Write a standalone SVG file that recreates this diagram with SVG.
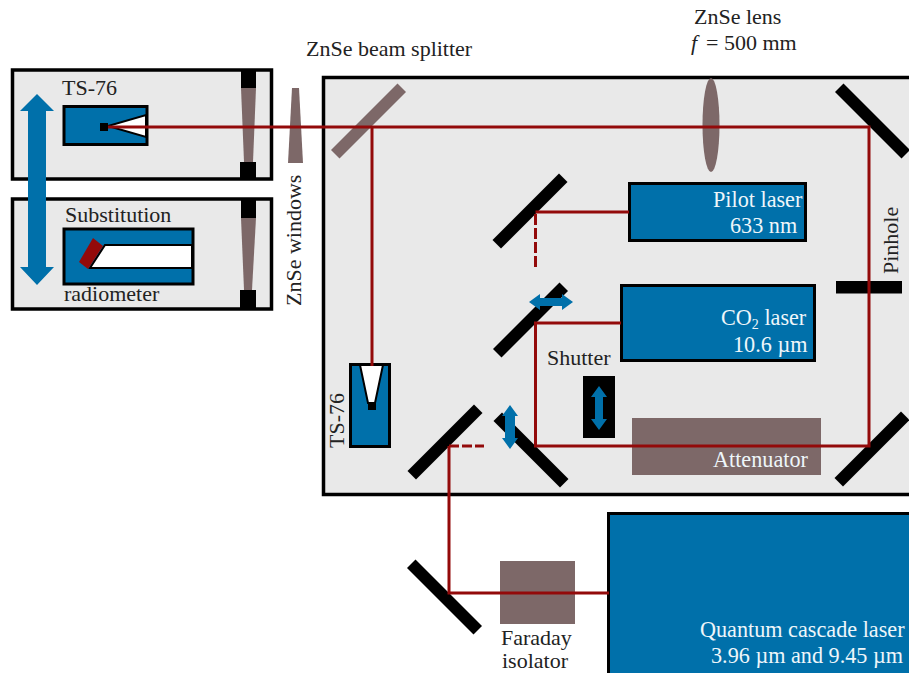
<svg xmlns="http://www.w3.org/2000/svg" width="909" height="673" viewBox="0 0 909 673">
<defs><style>
.box{fill:#e9e9e9;stroke:#000;stroke-width:3.5}
.blue{fill:#0070aa;stroke:#000;stroke-width:3}
.m{fill:#000}
.g{fill:#7d6868}
.b{fill:none;stroke:#930a0a;stroke-width:3}
.t{font-family:"Liberation Serif",serif;font-size:22px;fill:#222}
.w{font-family:"Liberation Serif",serif;font-size:22.200px;fill:#eef6fa}
.a{fill:#0070aa}
</style></defs>
<g id="enclosure-top"><rect class="box" x="12.500" y="70" width="259" height="109"/></g>
<g id="enclosure-bottom"><rect class="box" x="12.500" y="199" width="259" height="110"/></g>
<g id="main-box"><rect class="box" x="323.500" y="77.500" width="590" height="417"/></g>
<g id="window-top"><rect class="m" x="241" y="70" width="15" height="18"/><rect class="m" x="240" y="162" width="16" height="18"/><polygon class="g" points="241,88 256,88 253,162 244,162"/></g>
<g id="window-bottom"><rect class="m" x="241" y="200" width="15" height="18"/><rect class="m" x="240" y="290" width="16" height="19"/><polygon class="g" points="241,218 256,218 252,290 244,290"/></g>
<g id="window-outer"><polygon class="g" points="292,88 299,88 303,163 288,163"/></g>
<g id="ts76-top"><rect class="blue" x="64" y="106.500" width="83" height="38"/><polygon points="146,115 146,137 108,126" fill="#fff" stroke="#000" stroke-width="2"/><rect class="m" x="100" y="123" width="8" height="8"/></g>
<g id="radiometer"><rect class="blue" x="64" y="229" width="129" height="55"/><polygon points="105,245 192,245 192,268 90,268" fill="#fff" stroke="#000" stroke-width="2"/><polygon points="79,262 93,238 103,246 88,269" fill="#930a0a"/></g>
<g id="ts76-bottom"><rect class="blue" x="350.500" y="364.500" width="39" height="82"/><polygon points="360,365 383,365 375,403 368,403" fill="#fff" stroke="#000" stroke-width="2"/><rect class="m" x="368" y="403" width="8" height="7"/></g>
<g id="pilot-laser"><rect class="blue" x="629.500" y="183.500" width="176" height="57"/></g>
<g id="co2-laser"><rect class="blue" x="621.500" y="285.500" width="193" height="75"/></g>
<g id="qcl"><rect x="608.500" y="513.500" width="302" height="161" fill="#0070aa" stroke="#000" stroke-width="3"/></g>
<g id="attenuator"><rect class="g" x="632" y="418" width="189" height="57"/></g>
<g id="faraday"><rect class="g" x="500" y="561" width="75" height="63"/></g>
<g id="beam-splitter"><rect class="g" x="-47" y="-6" width="94" height="12" transform="translate(368.500 121) rotate(-45)"/></g>
<g id="lens"><ellipse class="g" cx="711" cy="125" rx="8.500" ry="47"/></g>
<g id="pinhole"><rect class="m" x="836" y="281" width="66" height="12.500"/></g>
<g id="mirrors" class="m">
<rect x="-47" y="-6" width="94" height="12" transform="translate(530 211) rotate(-45)"/>
<rect x="-47" y="-6" width="94" height="12" transform="translate(530.500 320) rotate(-45)"/>
<rect x="-47" y="-6" width="94" height="12" transform="translate(445 442) rotate(-45)"/>
<rect x="-47" y="-6" width="94" height="12" transform="translate(531 450) rotate(45)"/>
<rect x="-47" y="-6" width="94" height="12" transform="translate(872.500 121) rotate(45)"/>
<rect x="-47" y="-6" width="94" height="12" transform="translate(872 449) rotate(-45)"/>
<rect x="-47" y="-6" width="94" height="12" transform="translate(444.500 597) rotate(45)"/>
</g>
<g id="connectors">
<path class="b" d="M108 127H869V446H535.500V323H621"/>
<path class="b" d="M372 127V366"/>
<path class="b" d="M535.500 212H629"/>
<path class="b" d="M535.500 214V268" stroke-dasharray="11 3"/>
<path class="b" d="M449 446V593H609"/>
<path class="b" d="M449 446H484" stroke-dasharray="10 3"/>
</g>
<g id="shutter"><rect class="m" x="583" y="376" width="32" height="62"/></g>
<g id="arrows" class="a">
<polygon points="37,94 54,111 46,111 46,267 54,267 37,285 20,267 28,267 28,111 20,111"/>
<polygon points="529,302 540,294 540,298 562,298 562,294 573,302 562,310 562,306 540,306 540,310"/>
<polygon points="510,405 518,416 515,416 515,438 518,438 510,449 502,438 505,438 505,416 502,416"/>
<polygon points="599,386 607,397 603,397 603,419 607,419 599,430 591,419 595,419 595,397 591,397"/>
</g>
<g id="labels">
<text class="t" x="62" y="95">TS-76</text>
<text class="t" x="65" y="222">Substitution</text>
<text class="t" x="64" y="301">radiometer</text>
<text class="t" transform="translate(301 306) rotate(-90)">ZnSe windows</text>
<text class="t" x="306" y="56">ZnSe beam splitter</text>
<text class="t" x="694" y="24">ZnSe lens</text>
<text class="t" x="691" y="50"><tspan font-style="italic">f</tspan><tspan x="706">= 500 mm</tspan></text>
<text class="w" x="713" y="207">Pilot laser</text>
<text class="w" x="730" y="233">633 nm</text>
<text class="w" x="721" y="325">CO<tspan font-size="14" dy="4">2</tspan><tspan dy="-4"> laser</tspan></text>
<text class="w" x="733" y="352">10.6 µm</text>
<text class="t" x="547" y="365">Shutter</text>
<text class="t" transform="translate(344 448) rotate(-90)">TS-76</text>
<text class="t" transform="translate(898 274) rotate(-90)">Pinhole</text>
<text class="w" x="713" y="467">Attenuator</text>
<text class="t" x="501" y="645">Faraday</text>
<text class="t" x="502" y="668">isolator</text>
<text class="w" x="700" y="637">Quantum cascade laser</text>
<text class="w" x="711" y="663">3.96 µm and 9.45 µm</text>
</g>
</svg>
